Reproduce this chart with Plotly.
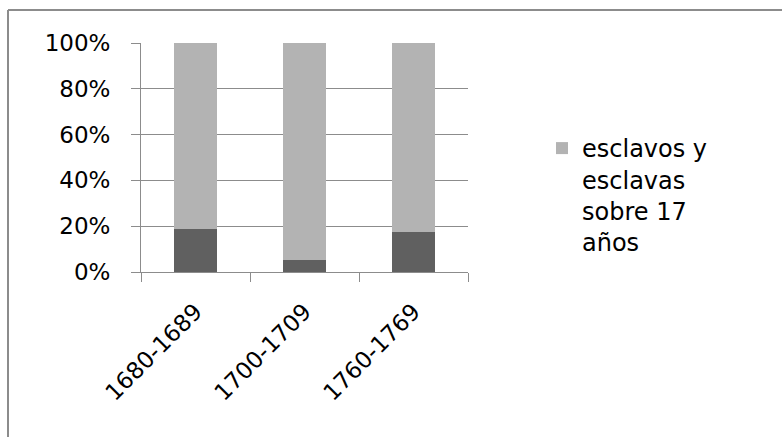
import plotly.graph_objects as go

categories = ["1680-1689", "1700-1709", "1760-1769"]
menores = [18.6, 5.4, 17.3]          # dark segment (%)
sobre17 = [81.4, 94.6, 82.7]         # light segment (%)
legend_name = "esclavos y<br>esclavas<br>sobre 17<br>años"
y_ticks = [0, 20, 40, 60, 80, 100]
y_tick_labels = ["0%", "20%", "40%", "60%", "80%", "100%"]

FONT = "DejaVu Sans"
GRID = "#8c8c8c"

fig = go.Figure()
fig.add_trace(go.Bar(x=categories, y=menores, marker=dict(color="#606060", line_width=0),
                     showlegend=False, name=""))
fig.add_trace(go.Bar(x=categories, y=sobre17, marker=dict(color="#b3b3b3", line_width=0),
                     name=legend_name))

W, H = 782, 437
L, R, T, B = 141, 468, 43, 272
pw, ph = R - L, B - T

def px(x):
    return (x - L) / pw

def py(y):
    return (B - y) / ph

fig.update_layout(
    width=W, height=H,
    margin=dict(l=L, r=W - R, t=T, b=H - B, pad=0),
    paper_bgcolor="white", plot_bgcolor="white",
    barmode="stack", bargap=0.6,
    font=dict(family=FONT, size=23, color="#000000"),
    legend=dict(x=px(542), y=py(126), xanchor="left", yanchor="top",
                valign="top", font=dict(size=24), bgcolor="rgba(0,0,0,0)",
                tracegroupgap=0),
    shapes=[
        dict(type="line", xref="paper", yref="paper", x0=px(8), x1=px(8),
             y0=py(H + 10), y1=py(10), line=dict(color="#8c8c8c", width=2)),
        dict(type="line", xref="paper", yref="paper", x0=px(8), x1=px(W + 10),
             y0=py(10), y1=py(10), line=dict(color="#8c8c8c", width=2)),
    ],
)

fig.update_xaxes(
    type="category", showgrid=False, showline=True, linecolor=GRID, linewidth=1,
    ticks="outside", tickson="boundaries", ticklen=9, tickcolor=GRID,
    tickangle=-45, tickfont=dict(size=23), range=[-0.5, 2.5],
    ticklabelstandoff=16,
)
fig.update_yaxes(
    range=[0, 100], tickvals=y_ticks, ticktext=y_tick_labels, showgrid=True,
    gridcolor=GRID, gridwidth=1, showline=True, linecolor=GRID, linewidth=1,
    ticks="outside", ticklen=9, tickcolor=GRID, zeroline=False,
    ticklabelstandoff=16, tickfont=dict(size=23),
)

fig.write_html("out.html")
